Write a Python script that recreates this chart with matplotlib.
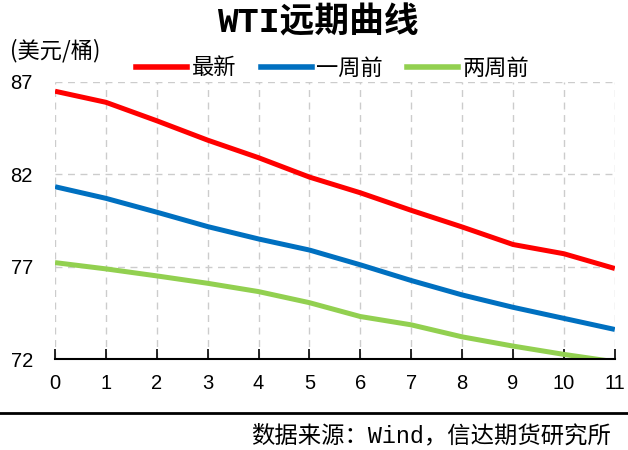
import matplotlib
matplotlib.use("Agg")
import matplotlib.pyplot as plt
from matplotlib.lines import Line2D

plt.rcParams['font.family'] = ['Noto Sans CJK SC', 'DejaVu Sans']

months = list(range(12))
latest = [86.5, 85.9, 84.9, 83.85, 82.9, 81.85, 81.0, 80.05, 79.15, 78.2, 77.7, 76.9]
week1 = [81.33, 80.7, 79.95, 79.17, 78.5, 77.9, 77.1, 76.25, 75.47, 74.8, 74.2, 73.6]
week2 = [77.22, 76.88, 76.5, 76.1, 75.65, 75.05, 74.3, 73.85, 73.2, 72.7, 72.25, 71.85]
series_names = ['最新', '一周前', '两周前']
colors = ['#FF0000', '#0070C0', '#92D050']
yticks = [72, 77, 82, 87]

fig = plt.figure(figsize=(6.28, 4.5), dpi=100)
ax = fig.add_axes([0.0876, 0.2022, 0.979 - 0.0876, 0.8178 - 0.2022])

for vals, c in zip([latest, week1, week2], colors):
    ax.plot(months, vals, color=c, lw=3.6, solid_joinstyle='round', solid_capstyle='butt', clip_on=True)

ax.set_xlim(0, 11)
ax.set_ylim(72, 87)
ax.set_yticks(yticks)
ax.set_xticks(months)
ax.grid(True, color='#CCCCCC', linestyle=(0, (5, 4)), lw=1.0)
ax.set_axisbelow(True)
for s in ['top', 'right', 'left']:
    ax.spines[s].set_visible(False)
ax.spines['bottom'].set_color('black')
ax.spines['bottom'].set_linewidth(1.5)
ax.tick_params(axis='x', direction='in', length=7, width=1.2, colors='black', labelsize=14.5, pad=11)
ax.tick_params(axis='y', length=0, labelsize=14.5, pad=16)
for lab in ax.get_xticklabels() + ax.get_yticklabels():
    lab.set_fontfamily(['Liberation Sans', 'DejaVu Sans'])

fig.text(0.506, 0.949, 'WTI远期曲线', ha='center', va='center', fontsize=25, fontweight='bold',
         family=['Liberation Mono', 'Noto Sans CJK SC'])
fig.text(0.016, 0.888, '(美元/桶)', ha='left', va='center', fontsize=16)

handles = [Line2D([0], [0], color=c, lw=4) for c in colors]
fig.legend(handles, series_names, loc='center', bbox_to_anchor=(0.530, 0.849), ncol=3, frameon=False,
           fontsize=16, handlelength=2.3, columnspacing=1.1, handletextpad=0.2,
           borderpad=0, borderaxespad=0)

fig.add_artist(Line2D([0, 1], [1 - 413/450, 1 - 413/450], color='black', lw=2, transform=fig.transFigure))
fig.text(0.973, 1 - 436/450, '数据来源：Wind，信达期货研究所', ha='right', va='center', fontsize=16.8,
         family=['Liberation Mono', 'Noto Sans CJK SC'])

fig.savefig('out.png', dpi=100)
